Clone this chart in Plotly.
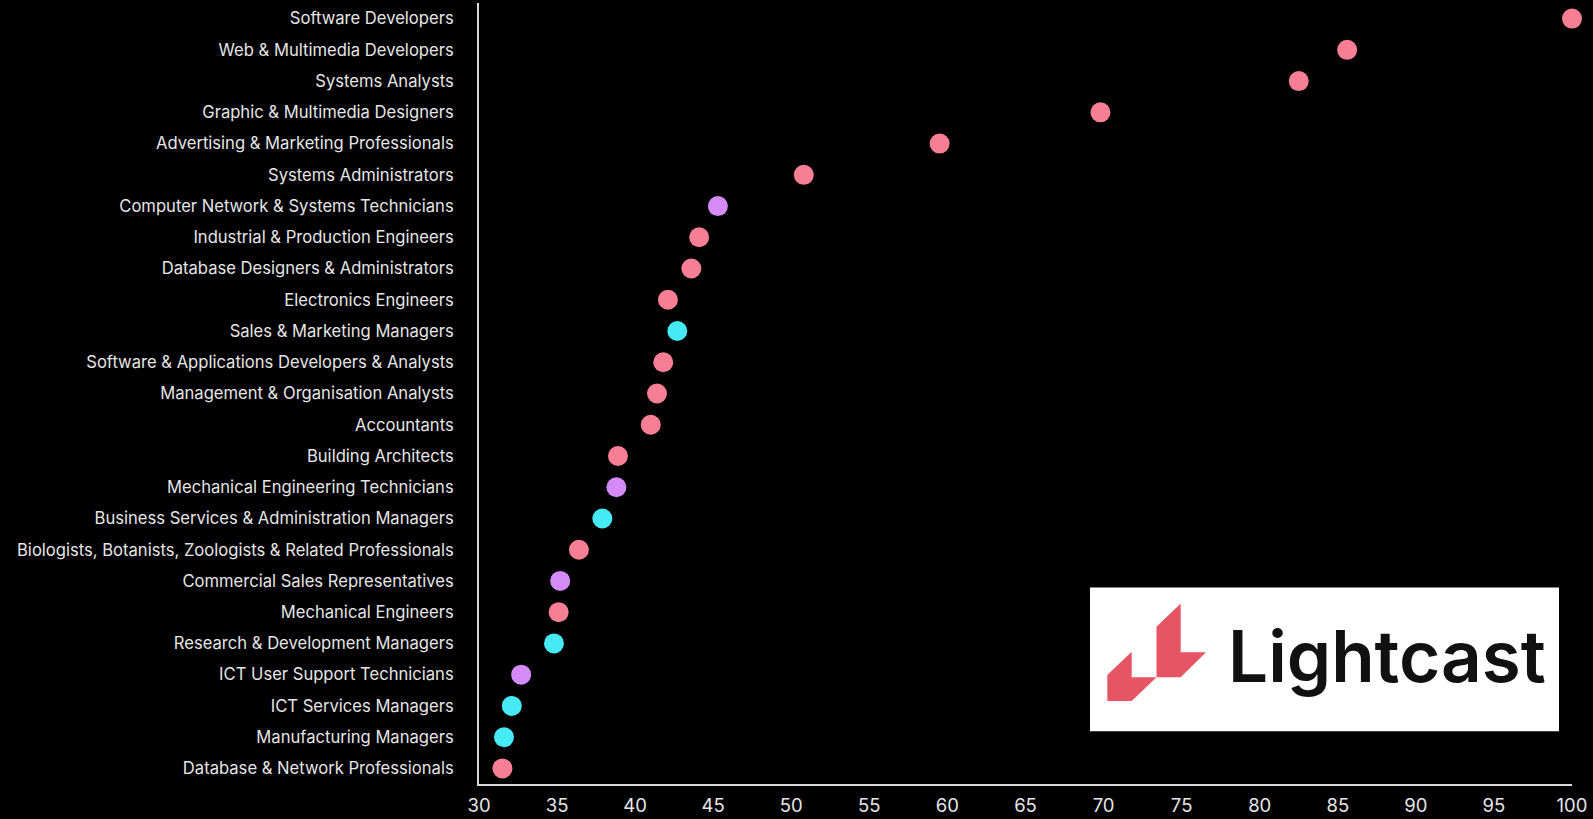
import plotly.graph_objects as go

# Occupations, top to bottom
occupations = [
    "Software Developers",
    "Web & Multimedia Developers",
    "Systems Analysts",
    "Graphic & Multimedia Designers",
    "Advertising & Marketing Professionals",
    "Systems Administrators",
    "Computer Network & Systems Technicians",
    "Industrial & Production Engineers",
    "Database Designers & Administrators",
    "Electronics Engineers",
    "Sales & Marketing Managers",
    "Software & Applications Developers & Analysts",
    "Management & Organisation Analysts",
    "Accountants",
    "Building Architects",
    "Mechanical Engineering Technicians",
    "Business Services & Administration Managers",
    "Biologists, Botanists, Zoologists & Related Professionals",
    "Commercial Sales Representatives",
    "Mechanical Engineers",
    "Research & Development Managers",
    "ICT User Support Technicians",
    "ICT Services Managers",
    "Manufacturing Managers",
    "Database & Network Professionals",
]

scores = [
    100.0, 85.6, 82.5, 69.8, 59.5, 50.8, 45.3, 44.1, 43.6, 42.1,
    42.7, 41.8, 41.4, 41.0, 38.9, 38.8, 37.9, 36.4, 35.2, 35.1,
    34.8, 32.7, 32.1, 31.6, 31.5,
]

# Occupation group per row
groups = [
    "professional", "professional", "professional", "professional", "professional",
    "professional", "technician", "professional", "professional", "professional",
    "manager", "professional", "professional", "professional", "professional",
    "technician", "manager", "professional", "technician", "professional",
    "manager", "technician", "manager", "manager", "professional",
]

group_colors = {
    "professional": "#F87E94",
    "technician": "#D48BF7",
    "manager": "#45EAF5",
}

x_ticks = [30, 35, 40, 45, 50, 55, 60, 65, 70, 75, 80, 85, 90, 95, 100]

W, H = 1593, 819
ML, MR, MT, MB = 479, 21, 3, 33


def px(x):
    return (x - ML) / (W - ML - MR)


def py(y):
    return (H - MB - y) / (H - MT - MB)


fig = go.Figure()
fig.add_trace(
    go.Scatter(
        x=scores,
        y=occupations,
        mode="markers",
        marker=dict(
            size=20,
            color=[group_colors[g] for g in groups],
            line=dict(width=0),
        ),
        cliponaxis=False,
        hoverinfo="x+y",
    )
)

# Logo panel
fig.add_shape(
    type="rect", xref="paper", yref="paper",
    x0=px(1090), x1=px(1559), y0=py(733), y1=py(589),
    fillcolor="white", line=dict(width=0), layer="above",
)


def poly(points):
    d = "M " + " L ".join(f"{px(a):.5f},{py(b):.5f}" for a, b in points) + " Z"
    return d


logo_red = "#E55564"
left_piece = [(1107.3, 676.7), (1131.7, 653.3), (1131.7, 679), (1156.5, 679),
              (1131.7, 702.7), (1107.3, 702.7)]
right_piece = [(1156.5, 628.3), (1180.7, 605), (1180.7, 654), (1206, 654),
               (1180.7, 679), (1156.5, 679)]
for piece in (left_piece, right_piece):
    fig.add_shape(
        type="path", xref="paper", yref="paper", path=poly(piece),
        fillcolor=logo_red, line=dict(width=0), layer="above",
    )

fig.add_annotation(
    text="Lightcast", xref="paper", yref="paper",
    x=px(1226), y=py(658), xanchor="left", yanchor="middle",
    showarrow=False,
    font=dict(family="Inter", size=71, color="#111111", weight=600),
)

fig.update_layout(
    width=W, height=H,
    margin=dict(l=ML, r=MR, t=MT, b=MB),
    paper_bgcolor="black",
    plot_bgcolor="black",
    showlegend=False,
    font=dict(family="Inter", color="#E6E6E6"),
)

fig.update_xaxes(
    range=[30, 100],
    tickvals=x_ticks,
    ticktext=[str(v) for v in x_ticks],
    showgrid=False, zeroline=False,
    showline=True, linecolor="#D9D9D9", linewidth=2,
    ticks="outside", ticklen=4, tickcolor="rgba(0,0,0,0)",
    tickfont=dict(size=18.5, color="#E6E6E6"),
)

fig.update_yaxes(
    type="category",
    categoryorder="array", categoryarray=occupations,
    range=[len(occupations) - 0.5, -0.5],
    showgrid=False, zeroline=False,
    showline=True, linecolor="#D9D9D9", linewidth=2,
    ticks="outside", ticklen=20, tickcolor="rgba(0,0,0,0)",
    tickfont=dict(size=16.6, color="#E6E6E6"),
)

fig.write_html("out.html")
